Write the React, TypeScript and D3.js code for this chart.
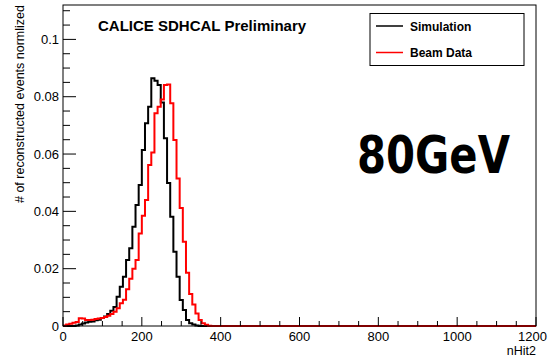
import React from "react";
import * as d3 from "d3";

// Histogram: 150 bins of width 8 over 0..1200 (nHit2)
const BIN_WIDTH = 8;
const N_BINS = 150;

// normalized bin contents, starting from bin 0 (remaining bins are empty)
const simulation = [
  0, 0, 0, 0, 0.0002, 0.0005, 0.0009, 0.0012, 0.0015, 0.0016,
  0.002, 0.0022, 0.0028, 0.0033, 0.0042, 0.0053, 0.0066, 0.0102, 0.0137, 0.0172,
  0.023, 0.0271, 0.0346, 0.0422, 0.0492, 0.0614, 0.0707, 0.0765, 0.0864, 0.0856,
  0.0841, 0.078, 0.0655, 0.0499, 0.0381, 0.0259, 0.0172, 0.0091, 0.0056, 0.0021,
  0.001, 0.0005, 0.0002,
];
const beamData = [
  0.0002, 0.0005, 0.0008, 0.0011, 0.0014, 0.0027, 0.0026, 0.0021, 0.0021, 0.0022,
  0.0024, 0.0026, 0.0028, 0.0031, 0.0036, 0.0042, 0.005, 0.0062, 0.0079, 0.0092,
  0.0128, 0.0165, 0.02, 0.023, 0.0323, 0.0385, 0.044, 0.0562, 0.0605, 0.0742,
  0.0765, 0.079, 0.0841, 0.0843, 0.0777, 0.0649, 0.0515, 0.0412, 0.0294, 0.0186,
  0.0112, 0.0075, 0.0044, 0.0021, 0.001, 0.0004, 0.0001,
];

const xMajorTicks = [0, 200, 400, 600, 800, 1000, 1200];
const xTickLabels = ["0", "200", "400", "600", "800", "1000", "1200"];
const yMajorTicks = [0, 0.02, 0.04, 0.06, 0.08, 0.1];
const yTickLabels = ["0", "0.02", "0.04", "0.06", "0.08", "0.1"];

const seriesNames = ["Simulation", "Beam Data"];
const seriesColors = ["#000000", "#ff0000"];

const W = 548;
const H = 361;
const FL = 63, FR = 536, FT = 5, FB = 326;
const FONT = "'Liberation Sans', Arial, Helvetica, sans-serif";

function toPoints(vals: number[]): [number, number][] {
  const pts: [number, number][] = [];
  for (let k = 0; k < N_BINS; k++) {
    pts.push([k * BIN_WIDTH, k < vals.length ? vals[k] : 0]);
  }
  pts.push([N_BINS * BIN_WIDTH, pts[pts.length - 1][1]]);
  return pts;
}

export default function App() {
  const x = d3.scaleLinear().domain([0, 1200]).range([FL, FR]);
  const y = d3.scaleLinear().domain([0, 0.112]).range([FB, FT]);
  const line = d3
    .line<[number, number]>()
    .x((d) => x(d[0]))
    .y((d) => y(d[1]))
    .curve(d3.curveStepAfter);

  const xMinor = d3.range(0, 1200 + 1, 50).filter((v) => v % 200 !== 0);
  const yMinor = d3.range(0, 0.1101, 0.005).filter((v) => Math.abs(v / 0.02 - Math.round(v / 0.02)) > 1e-6);

  const series = [simulation, beamData];

  return (
    <svg
      width={W}
      height={H}
      style={{ position: "absolute", left: 0, top: 0, background: "#fff" }}
    >
      <rect x={0} y={0} width={W} height={H} fill="#fff" />
      <defs>
        <clipPath id="frameClip">
          <rect x={FL} y={FT - 2} width={FR - FL} height={FB - FT + 3} />
        </clipPath>
      </defs>

      {/* histograms */}
      <g clipPath="url(#frameClip)">
        {series.map((s, i) => (
          <path
            key={i}
            d={line(toPoints(s)) || ""}
            fill="none"
            stroke={seriesColors[i]}
            strokeWidth={2}
            strokeLinejoin="miter"
          />
        ))}
      </g>

      {/* frame */}
      <rect x={FL} y={FT} width={FR - FL} height={FB - FT} fill="none" stroke="#000" strokeWidth={1} />

      {/* x ticks */}
      {xMajorTicks.map((t) => (
        <line key={"xM" + t} x1={x(t)} x2={x(t)} y1={FB} y2={FB - 9} stroke="#000" strokeWidth={1} />
      ))}
      {xMinor.map((t) => (
        <line key={"xm" + t} x1={x(t)} x2={x(t)} y1={FB} y2={FB - 5} stroke="#000" strokeWidth={1} />
      ))}
      {xMajorTicks.map((t, i) => (
        <text
          key={"xl" + t}
          x={t === 1200 ? W - 1 : x(t)}
          y={341}
          textAnchor={t === 1200 ? "end" : "middle"}
          fontFamily={FONT}
          fontSize={13}
          fill="#000"
        >
          {xTickLabels[i]}
        </text>
      ))}
      <text x={FR} y={355} textAnchor="end" fontFamily={FONT} fontSize={12.5} fill="#000">
        nHit2
      </text>

      {/* y ticks */}
      {yMajorTicks.map((t) => (
        <line key={"yM" + t} x1={FL} x2={FL + 13} y1={y(t)} y2={y(t)} stroke="#000" strokeWidth={1} />
      ))}
      {yMinor.map((t) => (
        <line key={"ym" + t} x1={FL} x2={FL + 7} y1={y(t)} y2={y(t)} stroke="#000" strokeWidth={1} />
      ))}
      {yMajorTicks.map((t, i) => (
        <text
          key={"yl" + t}
          x={59}
          y={y(t) + 4.5}
          textAnchor="end"
          fontFamily={FONT}
          fontSize={13}
          fill="#000"
        >
          {yTickLabels[i]}
        </text>
      ))}
      <text
        transform={`translate(24, ${FT}) rotate(-90)`}
        textAnchor="end"
        fontFamily={FONT}
        fontSize={12.5}
        fill="#000"
      >
        # of reconstructed events normlized
      </text>

      {/* title */}
      <text x={98} y={31} fontFamily={FONT} fontWeight="bold" fontSize={15} fill="#000">
        CALICE SDHCAL Preliminary
      </text>

      {/* legend */}
      <rect x={370} y={13.5} width={154} height={52} fill="#fff" stroke="#000" strokeWidth={1} />
      {seriesNames.map((n, i) => (
        <g key={n}>
          <line
            x1={376}
            x2={403}
            y1={26 + i * 26.5}
            y2={26 + i * 26.5}
            stroke={seriesColors[i]}
            strokeWidth={1.5}
          />
          <text
            x={410}
            y={30.5 + i * 26.5}
            fontFamily={FONT}
            fontWeight="bold"
            fontSize={12}
            fill="#000"
          >
            {n}
          </text>
        </g>
      ))}

      {/* energy annotation */}
      <text
        x={357}
        y={173}
        fontFamily="'Comic Sans MS', 'DejaVu Sans', sans-serif"
        fontWeight="bold"
        fontSize={52}
        textLength={153}
        lengthAdjust="spacingAndGlyphs"
        fill="#000"
      >
        80GeV
      </text>
    </svg>
  );
}
